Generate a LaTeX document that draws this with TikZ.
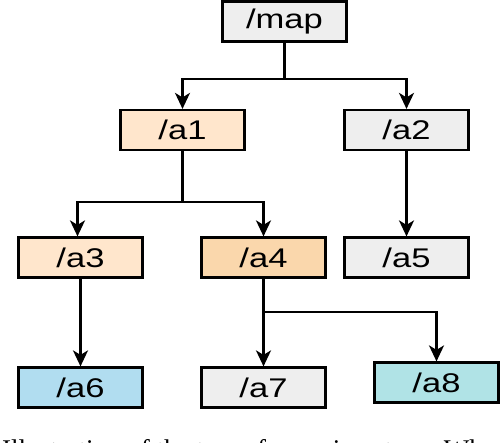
\documentclass[tikz,border=0pt]{standalone}
\usepackage{fontspec}
\setmainfont{Liberation Sans}
\newfontfamily\boxfont[FakeStretch=1.28]{Liberation Sans}
\newfontfamily\capfont{Liberation Serif}
\usetikzlibrary{arrows.meta,shadows}
\definecolor{cgrey}{HTML}{EEEEEE}
\definecolor{cpeach}{HTML}{FFE6CC}
\definecolor{corange}{HTML}{FAD7AC}
\definecolor{cblue}{HTML}{B1DDF0}
\definecolor{cteal}{HTML}{B0E3E6}
\begin{document}
\begin{tikzpicture}[x=1pt,y=-1pt,
  boxnode/.style={draw=black, line width=2.2pt, minimum width=124pt, minimum height=40pt, inner sep=0pt,
    font=\boxfont\fontsize{27}{30}\selectfont, drop shadow={shadow xshift=1.3pt, shadow yshift=-1.3pt, opacity=0.25}},
  arr/.style={line width=2.2pt, -{Stealth[length=16pt, width=15pt, inset=4.5pt]}}]
\useasboundingbox (0,0) rectangle (500,442);
\clip (0,0) rectangle (500,442);
\node[boxnode, fill=cgrey] (map) at (284.5,21.5) {/map};
\node[boxnode, fill=cpeach] (a1) at (182.5,130) {/a1};
\node[boxnode, fill=cgrey] (a2) at (406.5,130) {/a2};
\node[boxnode, fill=cpeach] (a3) at (80.5,257.5) {/a3};
\node[boxnode, fill=corange] (a4) at (263.5,257.5) {/a4};
\node[boxnode, fill=cgrey] (a5) at (406.5,257.5) {/a5};
\node[boxnode, fill=cblue] (a6) at (80.5,387.5) {/a6};
\node[boxnode, fill=cgrey] (a7) at (263.5,387.5) {/a7};
\node[boxnode, fill=cteal] (a8) at (436.5,382.5) {/a8};
\draw[arr] (map.south) -- ++(0,36) -| (a1.north);
\draw[arr] (map.south) -- ++(0,36) -| (a2.north);
\draw[arr] (a1.south) -- ++(0,51) -| ([xshift=-3pt]a3.north);
\draw[arr] (a1.south) -- ++(0,51) -| (a4.north);
\draw[arr] (a2.south) -- (a5.north);
\draw[arr] (a3.south) -- (a6.north);
\draw[arr] (a4.south) -- ++(0,33) -| (a7.north);
\draw[arr] (a4.south) -- ++(0,33) -| (a8.north);
\node[anchor=base west, inner sep=0pt, font=\capfont\fontsize{27}{30}\selectfont] (cap) at (2,458) {Illustration of the tree of mapping steps. When};
\end{tikzpicture}
\end{document}
